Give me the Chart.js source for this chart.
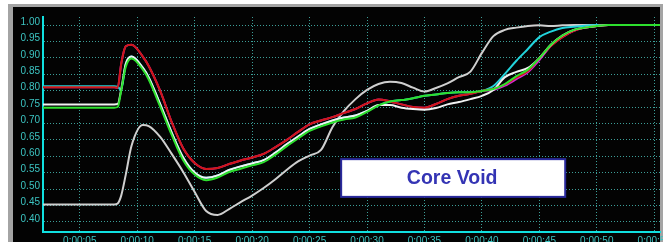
<!DOCTYPE html>
<html>
<head>
<meta charset="utf-8">
<script src="https://cdn.jsdelivr.net/npm/chart.js@4/dist/chart.umd.min.js"></script>
<style>
    html, body { margin: 0; padding: 0; background: #fff; overflow: hidden; }
    #wrap { width: 663px; height: 250px; }
</style>
</head>
<body>
<div id="wrap"><canvas id="voidChart" width="663" height="250"></canvas></div>
<script>
// time in seconds
const times = [1.8, 8.0, 8.3, 8.6, 9.0, 9.5, 10.5, 11, 12, 13, 14, 15, 16, 17, 18, 19, 20, 21, 22, 23, 24, 25, 26, 27, 28, 29,
    30, 31, 32, 33, 34, 35, 36, 37, 38, 39, 40, 41, 42, 43, 44, 45, 46, 47, 48, 49, 50, 51, 55.5];

const redVoid = [0.810, 0.810, 0.809, 0.880, 0.935, 0.940, 0.903, 0.875, 0.799, 0.704, 0.624, 0.579, 0.561, 0.564, 0.576, 0.587,
    0.596, 0.607, 0.627, 0.649, 0.674, 0.697, 0.709, 0.719, 0.732, 0.744, 0.761, 0.773, 0.767, 0.758, 0.750, 0.748, 0.759,
    0.774, 0.784, 0.790, 0.799, 0.806, 0.819, 0.840, 0.860, 0.899, 0.936, 0.963, 0.982, 0.992, 0.997, 1.000, 1.000];

const greenVoid = [0.748, 0.748, 0.750, 0.799, 0.872, 0.898, 0.863, 0.834, 0.751, 0.665, 0.588, 0.544, 0.527, 0.535, 0.552, 0.562,
    0.572, 0.582, 0.604, 0.630, 0.654, 0.677, 0.691, 0.703, 0.712, 0.718, 0.735, 0.755, 0.767, 0.771, 0.777, 0.784, 0.788,
    0.793, 0.795, 0.795, 0.799, 0.805, 0.820, 0.844, 0.864, 0.899, 0.940, 0.968, 0.985, 0.992, 0.997, 1.000, 1.000];

const whiteVoid = [0.758, 0.758, 0.759, 0.802, 0.881, 0.904, 0.869, 0.840, 0.759, 0.672, 0.596, 0.550, 0.534, 0.541, 0.558, 0.569,
    0.578, 0.588, 0.610, 0.636, 0.660, 0.683, 0.697, 0.709, 0.718, 0.724, 0.738, 0.756, 0.756, 0.748, 0.744, 0.742, 0.747,
    0.758, 0.765, 0.774, 0.784, 0.802, 0.841, 0.857, 0.869, 0.899, 0.940, 0.968, 0.985, 0.992, 0.997, 1.000, 1.000];

const cyanVoid = [0.813, 0.813, 0.812, 0.802, 0.881, 0.904, 0.869, 0.840, 0.759, 0.672, 0.596, 0.550, 0.534, 0.541, 0.558, 0.569,
    0.578, 0.588, 0.610, 0.636, 0.660, 0.683, 0.697, 0.709, 0.718, 0.724, 0.738, 0.755, 0.767, 0.771, 0.777, 0.784, 0.788,
    0.793, 0.795, 0.795, 0.799, 0.814, 0.851, 0.891, 0.927, 0.963, 0.980, 0.991, 0.995, 0.998, 1.000, 1.000, 1.000];

const magentaVoid = [0.810, 0.810, 0.809, 0.880, 0.935, 0.940, 0.903, 0.875, 0.799, 0.704, 0.624, 0.579, 0.561, 0.564, 0.576, 0.587,
    0.596, 0.607, 0.627, 0.649, 0.674, 0.697, 0.709, 0.719, 0.732, 0.744, 0.761, 0.773, 0.767, 0.758, 0.750, 0.748, 0.759,
    0.774, 0.784, 0.790, 0.799, 0.802, 0.815, 0.835, 0.856, 0.893, 0.936, 0.963, 0.982, 0.992, 0.997, 1.000, 1.000];

const grayVoid = [0.453, 0.453, 0.456, 0.479, 0.543, 0.631, 0.695, 0.692, 0.659, 0.607, 0.552, 0.491, 0.433, 0.421, 0.439, 0.460,
    0.480, 0.503, 0.529, 0.558, 0.584, 0.602, 0.619, 0.689, 0.738, 0.774, 0.802, 0.820, 0.827, 0.823, 0.809, 0.797, 0.808,
    0.822, 0.841, 0.858, 0.915, 0.966, 0.985, 0.992, 0.997, 0.999, 0.997, 0.999, 1.000, 1.000, 1.000, 1.000, 1.000];

const xTicks = [5, 10, 15, 20, 25, 30, 35, 40, 45, 50, 55];
const yTicks = [0.40, 0.45, 0.50, 0.55, 0.60, 0.65, 0.70, 0.75, 0.80, 0.85, 0.90, 0.95, 1.00];

const titleText = 'Core Void';

function toPoints(values) {
    return values.map((v, i) => ({ x: times[i], y: v }));
}

function series(values, color) {
    return {
        data: toPoints(values),
        borderColor: color,
        borderWidth: 2,
        pointRadius: 0,
        cubicInterpolationMode: 'monotone',
        fill: false
    };
}

// gray window frame + black plot background
const framePlugin = {
    id: 'frame',
    beforeDraw(chart) {
        const { ctx, width, height } = chart;
        ctx.save();
        ctx.fillStyle = '#ffffff';
        ctx.fillRect(0, 0, width, height);
        ctx.fillStyle = '#a4a4a4';
        ctx.fillRect(8, 4, width - 8, height - 4);
        ctx.fillStyle = '#030303';
        ctx.fillRect(13, 7, 647, height - 7);
        ctx.restore();
    }
};

// the "Core Void" label box, placed in data units
const labelPlugin = {
    id: 'coreLabel',
    afterDraw(chart) {
        const { ctx, scales } = chart;
        const x1 = scales.x.getPixelForValue(27.75);
        const x2 = scales.x.getPixelForValue(47.25);
        const y1 = scales.y.getPixelForValue(0.591);
        const y2 = scales.y.getPixelForValue(0.476);
        ctx.save();
        ctx.fillStyle = '#ffffff';
        ctx.fillRect(x1, y1, x2 - x1, y2 - y1);
        ctx.strokeStyle = '#2a2a9c';
        ctx.lineWidth = 2;
        ctx.strokeRect(x1, y1, x2 - x1, y2 - y1);
        ctx.fillStyle = '#3434b4';
        ctx.font = 'bold 19.5px "Liberation Sans", Arial, sans-serif';
        ctx.textAlign = 'center';
        ctx.textBaseline = 'middle';
        ctx.fillText(titleText, (x1 + x2) / 2 - 1, (y1 + y2) / 2 + 1);
        ctx.restore();
    }
};

const tickFont = { family: '"Liberation Sans", Arial, sans-serif', size: 10 };
const tickColor = '#3cc4c2';
const gridColor = '#3c9e98';

new Chart(document.getElementById('voidChart'), {
    type: 'line',
    data: {
        datasets: [
            series(greenVoid, '#2ee02e'),
            series(whiteVoid, '#f2f2f2'),
            series(redVoid, '#d01616'),
            series(cyanVoid, '#22d4dc'),
            series(magentaVoid, '#d428d4'),
            series(grayVoid, '#cfcfcf')
        ]
    },
    options: {
        responsive: false,
        animation: false,
        layout: { padding: { top: 17, right: 3, left: 0, bottom: 0 } },
        plugins: {
            legend: { display: false },
            tooltip: { enabled: false }
        },
        scales: {
            x: {
                type: 'linear',
                min: 1.8,
                max: 55.5,
                afterBuildTicks: s => { s.ticks = xTicks.map(v => ({ value: v })); },
                afterFit: s => { s.height = 18; s.paddingLeft = 0; s.paddingRight = 0; },
                ticks: {
                    autoSkip: false,
                    maxRotation: 0,
                    padding: 3,
                    color: tickColor,
                    font: tickFont,
                    callback: v => '0:00:' + String(v).padStart(2, '0')
                },
                grid: { color: gridColor, lineWidth: 1, drawTicks: false },
                border: { display: true, color: '#10e0e0', width: 2, dash: [1, 2] }
            },
            y: {
                min: 0.3689,
                max: 1.0244,
                afterBuildTicks: s => { s.ticks = yTicks.map(v => ({ value: v })); },
                afterFit: s => { s.width = 43; s.paddingTop = 0; s.paddingBottom = 0; },
                ticks: {
                    padding: 3,
                    labelOffset: -3,
                    color: tickColor,
                    font: tickFont,
                    callback: v => v.toFixed(2)
                },
                grid: { color: gridColor, lineWidth: 1, drawTicks: false },
                border: { display: true, color: '#10e0e0', width: 2, dash: [1, 2] }
            }
        }
    },
    plugins: [framePlugin, labelPlugin]
});
</script>
</body>
</html>
